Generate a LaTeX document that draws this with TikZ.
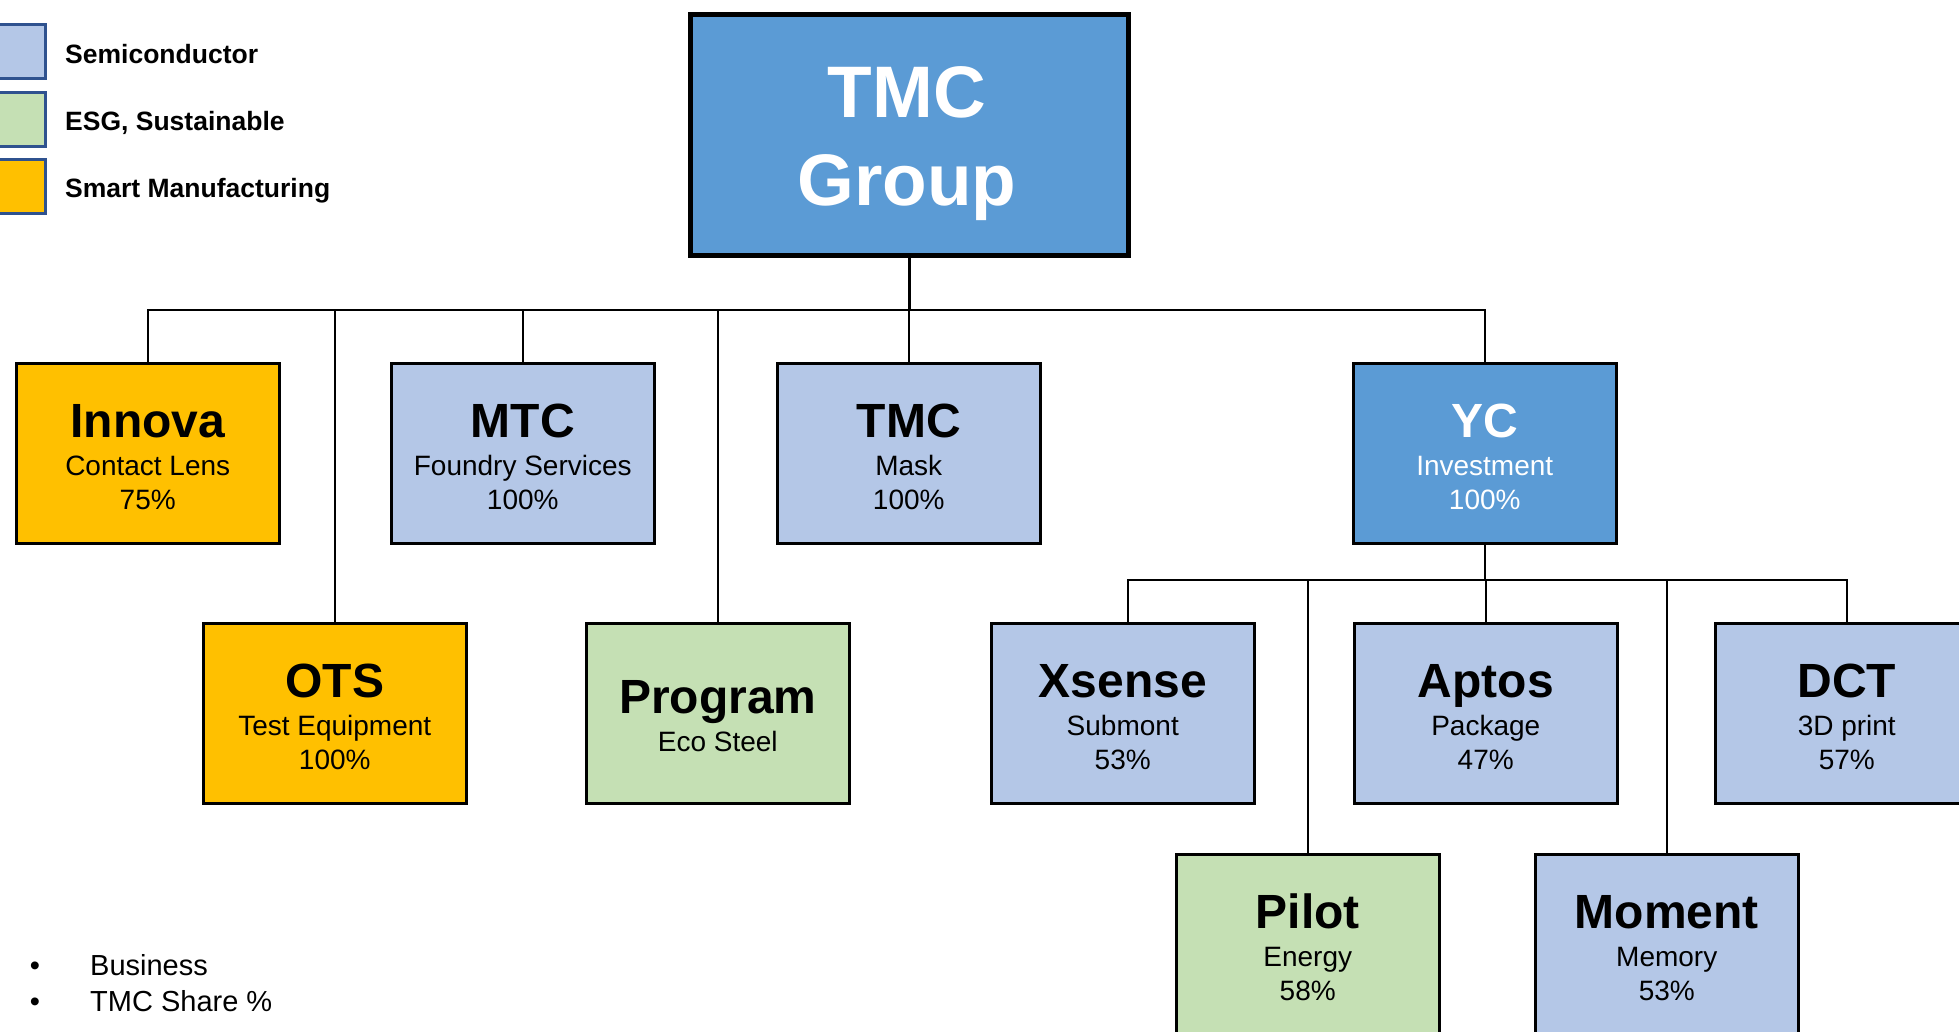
\documentclass[tikz,border=0pt]{standalone}
\usepackage{fontspec}
\setmainfont{Liberation Sans}
\definecolor{semi}{HTML}{B4C7E7}
\definecolor{esg}{HTML}{C5E0B4}
\definecolor{smart}{HTML}{FFC000}
\definecolor{grp}{HTML}{5B9BD5}
\definecolor{legline}{HTML}{2F528F}
\newcommand\orgbox[7]{%
  % #1 name, #2 corner, #3 fill, #4 text colour, #5 title, #6 sub, #7 pct
  \node[orgrect, fill=#3] (#1) at (#2) {};
  \node[titletext, text=#4] (#1-t) at ([yshift=-75pt]#1.north) {#5};
  \node[subtext, text=#4] (#1-s) at ([yshift=-113pt]#1.north) {#6};
  \node[subtext, text=#4] (#1-p) at ([yshift=-147pt]#1.north) {#7};
}
\begin{document}
\begin{tikzpicture}[x=1pt,y=-1pt,
  orgrect/.style={draw=black, line width=2.5pt, minimum width=263pt, minimum height=180pt, inner sep=0pt, anchor=north west},
  titletext/.style={anchor=base, inner sep=0pt, font=\fontsize{48}{48}\selectfont\bfseries},
  subtext/.style={anchor=base, inner sep=0pt, font=\fontsize{28}{28}\selectfont},
  legbox/.style={draw=legline, line width=2.5pt, minimum width=50pt, minimum height=54pt, inner sep=0pt, anchor=north west},
  legtext/.style={anchor=base west, inner sep=0pt, font=\fontsize{26.5}{26.5}\selectfont\bfseries},
  bultext/.style={anchor=base west, inner sep=0pt, font=\fontsize{29}{29}\selectfont},
  conn/.style={draw=black, line width=2.5pt},
]
\useasboundingbox (0,0) rectangle (1959,1031);

% legend
\node[legbox, fill=semi] (leg1) at (-6,23) {};
\node[legbox, fill=esg] (leg2) at (-6,91) {};
\node[legbox, fill=smart] (leg3) at (-6,158) {};
\node[legtext] (leg1-t) at (65,63) {Semiconductor};
\node[legtext] (leg2-t) at (65,130) {ESG, Sustainable};
\node[legtext] (leg3-t) at (65,197) {Smart Manufacturing};

% top box
\node[draw=black, line width=4.5pt, fill=grp, minimum width=438pt, minimum height=241pt, inner sep=0pt, anchor=north west] (tmc) at (688,12) {};
\node[anchor=base, inner sep=0pt, text=white, font=\fontsize{73}{73}\selectfont\bfseries] (tmc-1) at (907,117) {TMC};
\node[anchor=base, inner sep=0pt, text=white, font=\fontsize{73}{73}\selectfont\bfseries] (tmc-2) at (907,205) {Group};

% boxes
\orgbox{innova}{15,362}{smart}{black}{Innova}{Contact Lens}{75\%}
\orgbox{mtc}{390,362}{semi}{black}{MTC}{Foundry Services}{100\%}
\orgbox{mask}{776,362}{semi}{black}{TMC}{Mask}{100\%}
\orgbox{yc}{1352,362}{grp}{white}{YC}{Investment}{100\%}
\orgbox{ots}{202,622}{smart}{black}{OTS}{Test Equipment}{100\%}
\node[orgrect, fill=esg] (program) at (585,622) {};
\node[titletext] (program-t) at ([yshift=-91pt]program.north) {Program};
\node[subtext] (program-s) at ([yshift=-129pt]program.north) {Eco Steel};
\orgbox{xsense}{990,622}{semi}{black}{Xsense}{Submont}{53\%}
\orgbox{aptos}{1353,622}{semi}{black}{Aptos}{Package}{47\%}
\orgbox{dct}{1714,622}{semi}{black}{DCT}{3D print}{57\%}
\orgbox{pilot}{1175,853}{esg}{black}{Pilot}{Energy}{58\%}
\orgbox{moment}{1534,853}{semi}{black}{Moment}{Memory}{53\%}

% connectors
\coordinate (busA) at (0,310);
\coordinate (busB) at (0,580);
\draw[conn] (tmc.south) -- (tmc.south |- busA);
\draw[conn] (innova.north) -- (innova.north |- busA) -- (yc.north |- busA) -- (yc.north);
\draw[conn] (ots.north) -- (ots.north |- busA);
\draw[conn] (mtc.north) -- (mtc.north |- busA);
\draw[conn] (program.north) -- (program.north |- busA);
\draw[conn] (mask.north) -- (mask.north |- busA);
\draw[conn] (yc.south) -- (yc.south |- busB);
\draw[conn] ([xshift=5pt]xsense.north) -- ([xshift=5pt]xsense.north |- busB) -- (dct.north |- busB) -- (dct.north);
\draw[conn] (aptos.north) -- (aptos.north |- busB);
\draw[conn] (pilot.north) -- (pilot.north |- busB);
\draw[conn] (moment.north) -- (moment.north |- busB);

% bullets
\node[anchor=base, inner sep=0pt, font=\fontsize{29}{29}\selectfont] (b1) at (35,975) {•};
\node[anchor=base, inner sep=0pt, font=\fontsize{29}{29}\selectfont] (b2) at (35,1011) {•};
\node[bultext] (b1-t) at (90,975) {Business};
\node[bultext] (b2-t) at (90,1011) {TMC Share \%};
\end{tikzpicture}
\end{document}
